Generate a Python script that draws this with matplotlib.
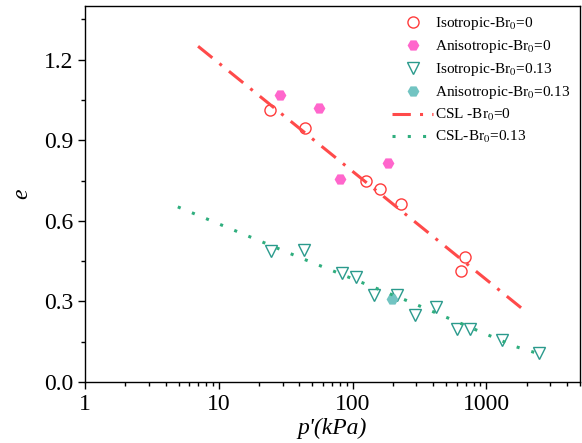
import numpy as np
import matplotlib
matplotlib.use("Agg")
import matplotlib.pyplot as plt

# isotropic, Br0 = 0
p_iso0 = [24, 44, 125, 160, 228, 693, 640]
e_iso0 = [1.014, 0.945, 0.750, 0.719, 0.662, 0.467, 0.415]

# anisotropic, Br0 = 0
p_ani0 = [28.7, 56.4, 184.6, 81]
e_ani0 = [1.068, 1.022, 0.817, 0.757]

# isotropic, Br0 = 0.13
p_iso13 = [24.7, 43.1, 82.8, 106.6, 144, 215, 290, 421, 604, 756, 1301, 2488]
e_iso13 = [0.488, 0.492, 0.405, 0.390, 0.324, 0.324, 0.250, 0.278, 0.196, 0.196, 0.157, 0.107]

# anisotropic, Br0 = 0.13
p_ani13 = [198]
e_ani13 = [0.308]

# critical state lines
p_csl0 = [7.0, 2014]
e_csl0 = [1.25, 0.258]
p_csl13 = [4.94, 41.4, 266, 1645, 2618]
e_csl13 = [0.652, 0.461, 0.299, 0.132, 0.101]

plt.rcParams['font.family'] = ['Liberation Serif', 'DejaVu Serif']
plt.rcParams['mathtext.fontset'] = 'stix'

fig = plt.figure(figsize=(5.82, 4.43), dpi=100)
ax = fig.add_axes([0.146, 0.1377, 0.8506, 0.8488])

ax.plot(p_iso0, e_iso0, 'o', mfc='none', mec='#ff3b3b', ms=8, mew=1.0,
        ls='none', label='Isotropic-Br$_0$=0')
ax.plot(p_ani0, e_ani0, 'H', color='#ff66cc', ms=8.5, mew=0,
        ls='none', label='Anisotropic-Br$_0$=0')
ax.plot(p_iso13, e_iso13, 'v', mfc='none', mec='#2a9a8c', ms=9, mew=1.0,
        ls='none', label='Isotropic-Br$_0$=0.13')
ax.plot(p_ani13, e_ani13, 'H', color='#72c4c2', ms=8.5, mew=0,
        ls='none', label='Anisotropic-Br$_0$=0.13')
ax.plot(p_csl0, e_csl0, color='#ff4a4a', lw=2.2, ls=(0, (6, 3, 1, 3)),
        label='CSL -Br$_0$=0')
ax.plot(p_csl13, e_csl13, color='#2fae7e', lw=2.2, ls=(0, (1, 4)),
        label='CSL-Br$_0$=0.13')

ax.set_xscale('log')
ax.set_xlim(1, 5000)
ax.set_ylim(0, 1.4)
ax.set_yticks([0.0, 0.3, 0.6, 0.9, 1.2])
ax.set_yticks(np.arange(0.15, 1.4, 0.3), minor=True)
ax.set_xticks([1, 10, 100, 1000])
ax.set_xticklabels(['1', '10', '100', '1000'])
ax.tick_params(which='major', direction='out', length=5, width=1, labelsize=17)
ax.tick_params(which='minor', direction='out', length=3, width=1)
for s in ax.spines.values():
    s.set_linewidth(1.0)

ax.set_xlabel("p'(kPa)", fontsize=17, style='italic', labelpad=2)
ax.set_ylabel('e', fontsize=17, style='italic', labelpad=8)

ax.legend(loc='upper right', frameon=False, fontsize=11, handlelength=2.7,
          handletextpad=0.15, labelspacing=0.39, borderaxespad=0.2)

fig.savefig('out.png', dpi=100)
